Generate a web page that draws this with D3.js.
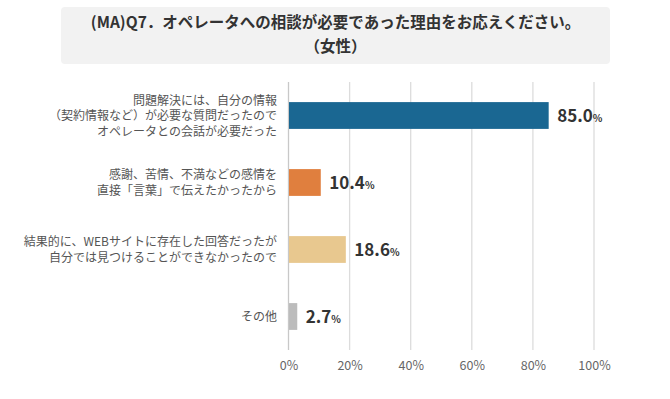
<!DOCTYPE html>
<html>
<head>
<meta charset="utf-8">
<script src="https://cdn.jsdelivr.net/npm/d3@7"></script>
<style>
  body { margin: 0; background: #fff; }
  svg text { font-family: "Noto Sans CJK JP", "Noto Sans", sans-serif; }
</style>
</head>
<body>
<div id="chart"></div>
<script>
const titleLines = ["(MA)Q7．オペレータへの相談が必要であった理由をお応えください。", "（女性）"];
const categories = [
  ["問題解決には、自分の情報", "（契約情報など）が必要な質問だったので", "オペレータとの会話が必要だった"],
  ["感謝、苦情、不満などの感情を", "直接「言葉」で伝えたかったから"],
  ["結果的に、WEBサイトに存在した回答だったが", "自分では見つけることができなかったので"],
  ["その他"]
];
const values = [85.0, 10.4, 18.6, 2.7];
const colors = ["#1a6792", "#e07f3e", "#e8c88f", "#bcbcbc"];
const ticks = [0, 20, 40, 60, 80, 100];

const width = 670, height = 399;
const margin = { top: 82, right: 76, bottom: 49, left: 288.5 };

const svg = d3.select("#chart").append("svg")
  .attr("width", width)
  .attr("height", height);

// title box
svg.append("rect")
  .attr("x", 61).attr("y", 7)
  .attr("width", 549).attr("height", 57)
  .attr("rx", 4)
  .attr("fill", "#f2f2f2");

svg.append("text")
  .attr("text-anchor", "middle")
  .attr("font-size", 15.5)
  .attr("font-weight", "bold")
  .attr("fill", "#333")
  .selectAll("tspan")
  .data(titleLines)
  .join("tspan")
  .attr("x", 335.5)
  .attr("y", (d, i) => 28 + i * 23.5)
  .text(d => d);

const x = d3.scaleLinear()
  .domain([0, 100])
  .range([margin.left, width - margin.right]);

const y = d3.scaleBand()
  .domain(d3.range(values.length))
  .range([margin.top, height - margin.bottom])
  .paddingInner(0.6)
  .paddingOuter(0.3);

// gridlines
svg.append("g")
  .selectAll("line")
  .data(ticks)
  .join("line")
  .attr("x1", d => x(d)).attr("x2", d => x(d))
  .attr("y1", margin.top).attr("y2", height - margin.bottom)
  .attr("stroke", d => d === 0 ? "#c8c8c8" : "#dcdcdc")
  .attr("stroke-width", 1.3);

// x axis labels
const xAxis = svg.append("g")
  .attr("transform", "translate(0," + (height - margin.bottom) + ")")
  .call(d3.axisBottom(x).tickValues(ticks).tickFormat(d => d + "%").tickSize(0).tickPadding(11));
xAxis.select(".domain").remove();
xAxis.selectAll("text")
  .attr("font-size", 12.5)
  .attr("fill", "#666")
  .style("font-family", '"Noto Sans CJK JP", sans-serif');

// bars
svg.append("g")
  .selectAll("rect")
  .data(values)
  .join("rect")
  .attr("x", x(0) + 0.5)
  .attr("y", (d, i) => y(i))
  .attr("width", d => x(d) - x(0))
  .attr("height", y.bandwidth())
  .attr("fill", (d, i) => colors[i]);

// value labels
const vl = svg.append("g")
  .selectAll("text")
  .data(values)
  .join("text")
  .attr("x", d => x(d) + 9)
  .attr("y", (d, i) => y(i) + y.bandwidth() / 2 + 6)
  .attr("font-weight", "bold")
  .attr("fill", "#333");
vl.append("tspan").attr("font-size", 17).text(d => d.toFixed(1));
vl.append("tspan").attr("font-size", 10).text("%");

// category labels
const lineH = 15.5;
svg.append("g")
  .selectAll("text")
  .data(categories)
  .join("text")
  .attr("text-anchor", "end")
  .attr("font-size", 12)
  .attr("fill", "#555")
  .each(function (lines, i) {
    const cy = y(i) + y.bandwidth() / 2;
    const y0 = cy - (lines.length - 1) * lineH / 2 + 4.5;
    d3.select(this).selectAll("tspan")
      .data(lines)
      .join("tspan")
      .attr("x", 277)
      .attr("y", (d, j) => y0 + j * lineH)
      .text(d => d);
  });
</script>
</body>
</html>
